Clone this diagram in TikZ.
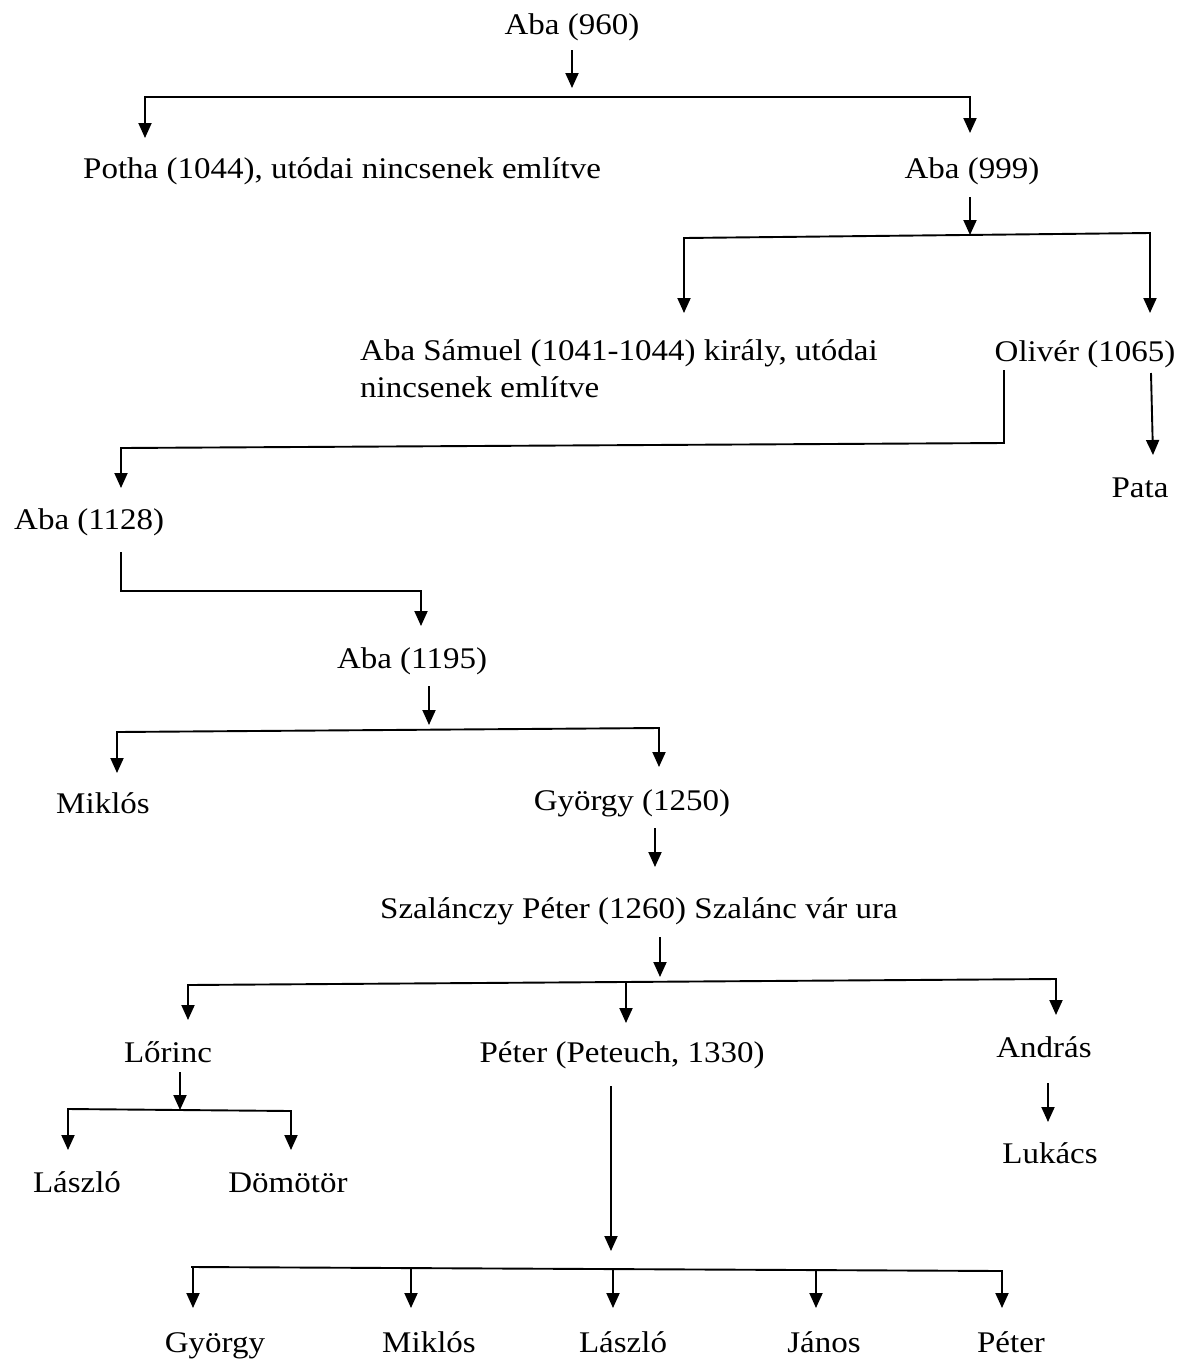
\documentclass[tikz,border=0pt]{standalone}
\usepackage{fontspec}
\setmainfont{Liberation Serif}[FakeStretch=1.1]
\usetikzlibrary{arrows.meta}
\begin{document}
\begin{tikzpicture}[x=1pt,y=-1pt,
  lbl/.style={inner sep=0pt,anchor=base,font=\fontsize{30}{37}\selectfont},
  lblw/.style={lbl,anchor=base west},
  ln/.style={line width=1.9pt,line cap=rect},
  arr/.style={line width=1.9pt,-{Triangle[width=13pt,length=15pt]}}]
\fill[white] (0,0) rectangle (1181,1361);
\useasboundingbox (0,0) rectangle (1181,1361);

% text nodes
\node[lbl]  (n960)  at (572,34)   {Aba (960)};
\node[lblw] (potha) at (83,178)   {Potha (1044), utódai nincsenek említve};
\node[lbl]  (n999)  at (972,178)  {Aba (999)};
\node[lblw,align=left] (samuel) at (360,397) {Aba Sámuel (1041-1044) király, utódai\\nincsenek említve};
\node[lbl]  (oliver) at (1085,361) {Olivér (1065)};
\node[lbl]  (pata)  at (1140,497)  {Pata};
\node[lblw] (n1128) at (14,529)   {Aba (1128)};
\node[lbl]  (n1195) at (412,668)  {Aba (1195)};
\node[lbl]  (miklos1) at (103,813) {Miklós};
\node[lbl]  (gyorgy1) at (632,810) {György (1250)};
\node[lbl]  (szal)  at (639,918)  {Szalánczy Péter (1260) Szalánc vár ura};
\node[lbl]  (lorinc) at (168,1062) {Lőrinc};
\node[lbl]  (peterp) at (622,1062) {Péter (Peteuch, 1330)};
\node[lbl]  (andras) at (1044,1057) {András};
\node[lbl]  (laszlo1) at (77,1192) {László};
\node[lbl]  (domotor) at (288,1192) {Dömötör};
\node[lbl]  (lukacs) at (1050,1163) {Lukács};
\node[lbl]  (gy2) at (215,1352) {György};
\node[lbl]  (mi2) at (429,1352) {Miklós};
\node[lbl]  (la2) at (623,1352) {László};
\node[lbl]  (ja2) at (824,1352) {János};
\node[lbl]  (pe2) at (1011,1352) {Péter};

% junction coordinates
\coordinate (a1s) at (572,50);   \coordinate (a1e) at (572,88);
\coordinate (h1l) at (145,97);   \coordinate (h1r) at (970,97);
\coordinate (h1le) at (145,138); \coordinate (h1re) at (970,133);

\coordinate (a2s) at (970,197);  \coordinate (a2e) at (970,235);
\coordinate (h2l) at (684,238);  \coordinate (h2r) at (1150,233);
\coordinate (h2le) at (684,313); \coordinate (h2re) at (1150,313);

\coordinate (o1) at (1004,371);  \coordinate (o2) at (1004,443);
\coordinate (o3) at (121,448);   \coordinate (o4) at (121,488);

\coordinate (p1) at (1151,373);  \coordinate (p2) at (1153,455);

\coordinate (b1) at (121,553);   \coordinate (b2) at (121,591);
\coordinate (b3) at (421,591);   \coordinate (b4) at (421,626);

\coordinate (c1) at (429,686);   \coordinate (c2) at (429,725);
\coordinate (h3l) at (117,732);  \coordinate (h3r) at (659,728);
\coordinate (h3le) at (117,773); \coordinate (h3re) at (659,767);

\coordinate (d1) at (655,828);   \coordinate (d2) at (655,867);

\coordinate (e1) at (660,937);   \coordinate (e2) at (660,977);
\coordinate (h4l) at (188,985);  \coordinate (h4r) at (1056,979);
\coordinate (h4m) at (626,982);
\coordinate (h4le) at (188,1020); \coordinate (h4me) at (626,1023); \coordinate (h4re) at (1056,1015);

\coordinate (f1) at (180,1072);  \coordinate (f2) at (180,1110);
\coordinate (h5l) at (68,1109);  \coordinate (h5r) at (291,1111);
\coordinate (h5le) at (68,1150); \coordinate (h5re) at (291,1150);

\coordinate (g1) at (611,1086);  \coordinate (g2) at (611,1251);
\coordinate (k1) at (1048,1083); \coordinate (k2) at (1048,1122);

\coordinate (h6l) at (192,1267); \coordinate (h6r) at (1002,1271);
\coordinate (q1) at (193,1267);  \coordinate (q1e) at (193,1308);
\coordinate (q2) at (411,1268);  \coordinate (q2e) at (411,1308);
\coordinate (q3) at (613,1269);  \coordinate (q3e) at (613,1308);
\coordinate (q4) at (816,1270);  \coordinate (q4e) at (816,1308);
\coordinate (q5) at (1002,1271); \coordinate (q5e) at (1002,1308);

% connectors
\draw[arr] (a1s) -- (a1e);
\draw[ln] (h1l) -- (h1r);
\draw[arr] (h1l) -- (h1le);
\draw[arr] (h1r) -- (h1re);

\draw[arr] (a2s) -- (a2e);
\draw[ln] (h2l) -- (h2r);
\draw[arr] (h2l) -- (h2le);
\draw[arr] (h2r) -- (h2re);

\draw[ln] (o1) -- (o2) -- (o3);
\draw[arr] (o3) -- (o4);
\draw[arr] (p1) -- (p2);

\draw[ln] (b1) -- (b2) -- (b3);
\draw[arr] (b3) -- (b4);

\draw[arr] (c1) -- (c2);
\draw[ln] (h3l) -- (h3r);
\draw[arr] (h3l) -- (h3le);
\draw[arr] (h3r) -- (h3re);

\draw[arr] (d1) -- (d2);

\draw[arr] (e1) -- (e2);
\draw[ln] (h4l) -- (h4r);
\draw[arr] (h4l) -- (h4le);
\draw[arr] (h4m) -- (h4me);
\draw[arr] (h4r) -- (h4re);

\draw[arr] (f1) -- (f2);
\draw[ln] (h5l) -- (h5r);
\draw[arr] (h5l) -- (h5le);
\draw[arr] (h5r) -- (h5re);

\draw[arr] (g1) -- (g2);
\draw[arr] (k1) -- (k2);

\draw[ln] (h6l) -- (h6r);
\draw[arr] (q1) -- (q1e);
\draw[arr] (q2) -- (q2e);
\draw[arr] (q3) -- (q3e);
\draw[arr] (q4) -- (q4e);
\draw[arr] (q5) -- (q5e);
\end{tikzpicture}
\end{document}
